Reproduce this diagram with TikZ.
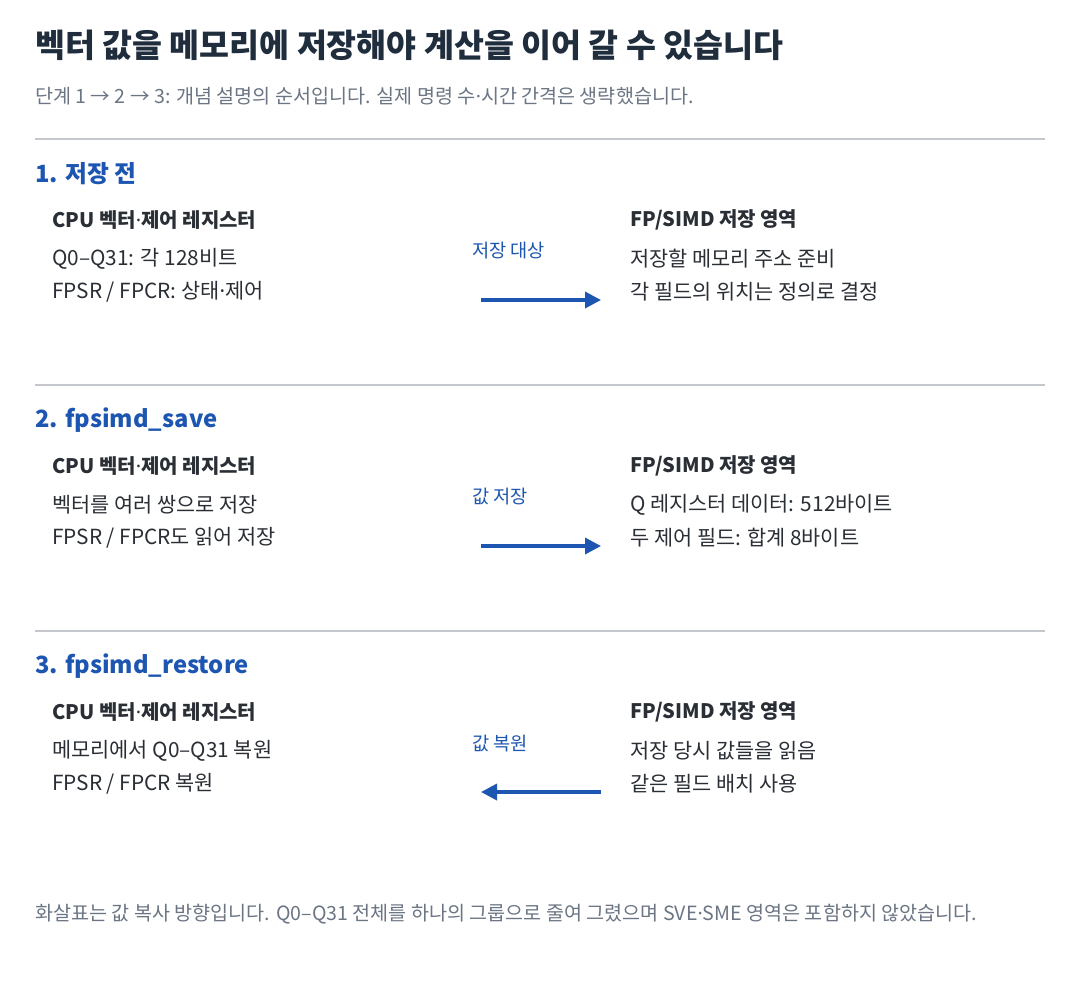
\documentclass[tikz,border=0pt]{standalone}
\usepackage{fontspec}
\setmainfont{Noto Sans CJK KR}
\newfontfamily\latinfont{Noto Sans}
\usetikzlibrary{arrows.meta}

\definecolor{titleink}{HTML}{1F2D3D}
\definecolor{noteink}{HTML}{6B7583}
\definecolor{blueink}{HTML}{1D56B1}
\definecolor{bodyink}{HTML}{2A2E35}
\definecolor{ruleink}{HTML}{C4C7CC}

\newcommand{\sepdot}{{\latinfont ·}}

\tikzset{
  pagetitle/.style={anchor=west, inner sep=0pt, text=titleink, font=\fontsize{24.4}{29}\selectfont\bfseries},
  note/.style={anchor=west, inner sep=0pt, text=noteink, font=\fontsize{14.7}{18}\selectfont},
  heading/.style={anchor=west, inner sep=0pt, text=blueink, font=\fontsize{17.8}{22}\selectfont\bfseries},
  boxhead/.style={anchor=west, inner sep=0pt, text=bodyink, font=\fontsize{15}{18}\selectfont\bfseries},
  bodyline/.style={anchor=west, inner sep=0pt, text=bodyink, font=\fontsize{15.6}{19}\selectfont},
  flowlabel/.style={anchor=west, inner sep=0pt, text=blueink, font=\fontsize{14}{17}\selectfont},
  flow/.style={draw=blueink, line width=2.6pt, -{Triangle[length=12pt, width=12pt]}},
  sepline/.style={draw=ruleink, line width=0.8pt},
}

\begin{document}
\begin{tikzpicture}[x=0.75pt, y=-0.75pt]
\useasboundingbox[fill=white] (0,0) rectangle (1080,990);

\node[pagetitle] (title) at (35,45) {벡터 값을 메모리에 저장해야 계산을 이어 갈 수 있습니다};
\node[note] (subtitle) at (35,96) {단계 1 → 2 → 3: 개념 설명의 순서입니다. 실제 명령 수\sepdot 시간 간격은 생략했습니다.};

\coordinate (rule1a) at (35,139);
\coordinate (rule1b) at (1045,139);
\draw[sepline] (rule1a) -- (rule1b);
\node[heading] (step1) at (35,174) {1. 저장 전};
\node[boxhead] (cpu1) at (52,220) {CPU 벡터\sepdot 제어 레지스터};
\node[bodyline] (cpu1a) at (52,259) {Q0–Q31: 각 128비트};
\node[bodyline] (cpu1b) at (52,292) {FPSR / FPCR: 상태\sepdot 제어};
\node[boxhead] (mem1) at (630,220) {FP/SIMD 저장 영역};
\node[bodyline] (mem1a) at (630,259) {저장할 메모리 주소 준비};
\node[bodyline] (mem1b) at (630,292) {각 필드의 위치는 정의로 결정};
\node[flowlabel] (flow1) at (472,251) {저장 대상};
\coordinate (flow1a) at (481,300);
\coordinate (flow1b) at (601,300);
\draw[flow] (flow1a) -- (flow1b);

\coordinate (rule2a) at (35,385);
\coordinate (rule2b) at (1045,385);
\draw[sepline] (rule2a) -- (rule2b);
\node[heading] (step2) at (35,420) {2. fpsimd\_save};
\node[boxhead] (cpu2) at (52,466) {CPU 벡터\sepdot 제어 레지스터};
\node[bodyline] (cpu2a) at (52,505) {벡터를 여러 쌍으로 저장};
\node[bodyline] (cpu2b) at (52,538) {FPSR / FPCR도 읽어 저장};
\node[boxhead] (mem2) at (630,466) {FP/SIMD 저장 영역};
\node[bodyline] (mem2a) at (630,505) {Q 레지스터 데이터: 512바이트};
\node[bodyline] (mem2b) at (630,538) {두 제어 필드: 합계 8바이트};
\node[flowlabel] (flow2) at (472,497) {값 저장};
\coordinate (flow2a) at (481,546);
\coordinate (flow2b) at (601,546);
\draw[flow] (flow2a) -- (flow2b);

\coordinate (rule3a) at (35,631);
\coordinate (rule3b) at (1045,631);
\draw[sepline] (rule3a) -- (rule3b);
\node[heading] (step3) at (35,666) {3. fpsimd\_restore};
\node[boxhead] (cpu3) at (52,712) {CPU 벡터\sepdot 제어 레지스터};
\node[bodyline] (cpu3a) at (52,751) {메모리에서 Q0–Q31 복원};
\node[bodyline] (cpu3b) at (52,784) {FPSR / FPCR 복원};
\node[boxhead] (mem3) at (630,712) {FP/SIMD 저장 영역};
\node[bodyline] (mem3a) at (630,751) {저장 당시 값들을 읽음};
\node[bodyline] (mem3b) at (630,784) {같은 필드 배치 사용};
\node[flowlabel] (flow3) at (472,743) {값 복원};
\coordinate (flow3a) at (601,792);
\coordinate (flow3b) at (481,792);
\draw[flow] (flow3a) -- (flow3b);

\node[note] (footer) at (35,914) {화살표는 값 복사 방향입니다. Q0–Q31 전체를 하나의 그룹으로 줄여 그렸으며 SVE\sepdot SME 영역은 포함하지 않았습니다.};

\end{tikzpicture}
\end{document}
